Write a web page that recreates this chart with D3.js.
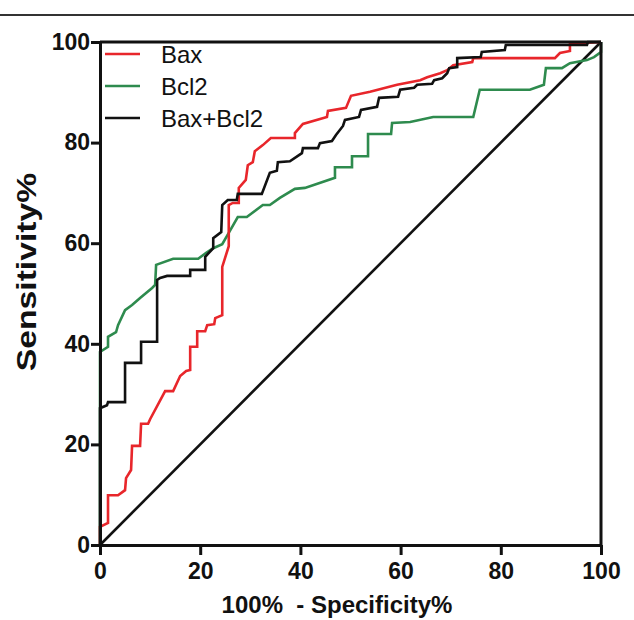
<!DOCTYPE html>
<html>
<head>
<meta charset="utf-8">
<script src="https://cdn.jsdelivr.net/npm/d3@7/dist/d3.min.js"></script>
<style>
  html, body { margin: 0; padding: 0; background: #ffffff; }
  svg { display: block; }
</style>
</head>
<body>
<svg id="chart" width="634" height="620"></svg>
<script>
// ---------------- data ----------------
const seriesNames = ["Bax", "Bcl2", "Bax+Bcl2"];
const seriesColors = ["#e8262b", "#2e8b4e", "#111111"];

const baxX = [0, 0, 1.6, 1.6, 3.6, 5.0, 5.2, 6.2, 6.4, 8.0, 8.2, 9.6, 10.0, 13.0, 14.6, 16.0, 17.2, 18.0, 18.0, 19.4, 19.4, 21.0, 21.4, 22.8, 23.0, 24.4, 24.4, 25.7, 25.7, 26.5, 27.7, 27.7, 29.1, 29.5, 30.5, 30.9, 32.5, 34.1, 38.9, 38.9, 40.5, 45.3, 45.5, 49.1, 50.1, 53.9, 59.3, 63.9, 65.3, 67.9, 69.3, 70.5, 74.3, 74.5, 90.8, 91.8, 93.8, 93.8, 96.4, 100];
const baxY = [0, 3.6, 4.4, 9.9, 9.9, 10.9, 13.3, 14.9, 19.7, 19.7, 24.1, 24.1, 25.0, 30.6, 30.6, 33.6, 34.6, 34.8, 39.4, 39.4, 42.5, 42.5, 43.7, 43.9, 45.1, 45.7, 55.3, 59.4, 67.6, 68.0, 68.0, 71.0, 72.6, 75.5, 76.1, 78.3, 79.5, 80.9, 80.9, 81.9, 83.7, 85.1, 86.3, 86.9, 89.3, 90.1, 91.5, 92.4, 93.0, 93.8, 94.4, 95.4, 96.0, 96.8, 96.8, 97.8, 98.2, 99.8, 99.8, 100];

const bcl2X = [0, 0, 1.6, 1.6, 3.2, 3.6, 5.0, 6.4, 8.0, 10.4, 11.0, 11.2, 14.6, 19.6, 21.2, 22.6, 24.4, 25.9, 27.5, 29.3, 32.5, 33.9, 35.9, 38.9, 40.9, 46.9, 46.9, 50.3, 50.3, 53.5, 53.5, 58.1, 58.3, 61.9, 66.5, 74.5, 75.8, 85.8, 88.6, 89.0, 92.2, 93.8, 97.2, 98.6, 100, 100];
const bcl2Y = [0, 38.4, 39.4, 41.4, 42.3, 43.7, 46.7, 47.7, 49.1, 51.1, 51.7, 55.7, 56.9, 56.9, 58.1, 59.0, 59.8, 62.4, 65.2, 65.2, 67.6, 67.6, 69.0, 70.8, 71.0, 73.0, 75.1, 75.1, 77.3, 77.3, 81.7, 81.7, 83.9, 84.1, 85.1, 85.1, 90.5, 90.5, 91.5, 94.8, 94.8, 95.8, 96.4, 97.0, 98.0, 100];

const comboX = [0, 0, 1.4, 1.6, 5.0, 5.0, 8.2, 8.2, 11.4, 11.4, 12.0, 13.4, 18.0, 18.0, 21.0, 21.0, 22.6, 22.6, 24.2, 24.4, 25.5, 27.3, 27.5, 32.3, 33.9, 35.3, 35.5, 37.9, 40.3, 40.5, 43.5, 43.9, 46.3, 47.1, 48.5, 48.9, 51.7, 52.1, 55.3, 55.7, 59.5, 59.9, 62.7, 63.3, 66.3, 66.7, 68.3, 69.3, 69.7, 71.3, 71.3, 76.0, 76.2, 80.8, 81.0, 97.2, 97.4, 100];
const comboY = [0, 27.2, 27.8, 28.4, 28.4, 36.2, 36.2, 40.4, 40.4, 52.7, 53.1, 53.5, 53.5, 54.7, 54.7, 57.3, 59.0, 61.0, 62.2, 67.6, 68.6, 68.6, 69.8, 69.8, 74.0, 74.4, 76.1, 76.3, 77.9, 78.9, 78.9, 79.9, 80.3, 81.5, 83.3, 84.5, 85.1, 86.5, 87.1, 88.9, 89.1, 90.5, 90.9, 91.5, 91.7, 92.4, 92.8, 93.8, 94.8, 95.0, 96.8, 97.0, 98.0, 98.4, 99.4, 99.4, 100, 100];

const refX = [0, 100];
const refY = [0, 100];

const xTicks = [0, 20, 40, 60, 80, 100];
const yTicks = [0, 20, 40, 60, 80, 100];
const xTitle = "100%  - Specificity%";
const yTitle = "Sensitivity%";

// ---------------- layout ----------------
const svg = d3.select("#chart");
const plotL = 100, plotR = 601, plotT = 42, plotB = 545;
const x = d3.scaleLinear().domain([0, 100]).range([plotL, plotR]);
const y = d3.scaleLinear().domain([0, 100]).range([plotB, plotT]);

// top rule of the page
svg.append("line")
  .attr("x1", 0).attr("x2", 634).attr("y1", 15).attr("y2", 15)
  .attr("stroke", "#333").attr("stroke-width", 2);

const zip = (xs, ys) => xs.map((v, i) => [v, ys[i]]);
const line = d3.line().x(d => x(d[0])).y(d => y(d[1]));

// diagonal reference
svg.append("path").datum(zip(refX, refY))
  .attr("d", line).attr("fill", "none")
  .attr("stroke", "#111").attr("stroke-width", 2.6);

const series = [zip(baxX, baxY), zip(bcl2X, bcl2Y), zip(comboX, comboY)];
[1, 0, 2].forEach(i => {
  svg.append("path").datum(series[i])
    .attr("d", line).attr("fill", "none")
    .attr("stroke", seriesColors[i]).attr("stroke-width", 2.6)
    .attr("stroke-linejoin", "miter");
});

// frame (top and right)
svg.append("line").attr("x1", plotL).attr("x2", plotR).attr("y1", plotT).attr("y2", plotT)
  .attr("stroke", "#111").attr("stroke-width", 3);
svg.append("line").attr("x1", plotR).attr("x2", plotR).attr("y1", plotT).attr("y2", plotB)
  .attr("stroke", "#111").attr("stroke-width", 3);

// axes
const font = "'Liberation Sans', Arial, sans-serif";
const xAxis = svg.append("g").attr("transform", `translate(0,${plotB})`)
  .call(d3.axisBottom(x).tickValues(xTicks).tickSize(10).tickPadding(8).tickSizeOuter(0));
const yAxis = svg.append("g").attr("transform", `translate(${plotL},0)`)
  .call(d3.axisLeft(y).tickValues(yTicks).tickSize(9).tickPadding(1).tickSizeOuter(0));
[xAxis, yAxis].forEach(g => {
  g.select(".domain").attr("stroke", "#111").attr("stroke-width", 3);
  g.selectAll(".tick line").attr("stroke", "#111").attr("stroke-width", 3);
  g.selectAll(".tick text").attr("fill", "#111")
    .style("font-family", font).style("font-weight", "bold").style("font-size", "23px");
});

// titles
svg.append("text").attr("x", 337).attr("y", 613)
  .attr("text-anchor", "middle")
  .style("font-family", font).style("font-weight", "bold").style("font-size", "24px")
  .style("white-space", "pre")
  .attr("fill", "#111").text(xTitle);
svg.append("text").attr("transform", "translate(36,272) rotate(-90) scale(1.25,1)")
  .attr("text-anchor", "middle")
  .style("font-family", font).style("font-weight", "bold").style("font-size", "27px")
  .attr("fill", "#111").text(yTitle);

// legend
const legend = svg.append("g");
seriesNames.forEach((name, i) => {
  const ly = 54 + i * 32;
  legend.append("line").attr("x1", 105).attr("x2", 140).attr("y1", ly).attr("y2", ly)
    .attr("stroke", seriesColors[i]).attr("stroke-width", 2.6);
  legend.append("text").attr("x", 161).attr("y", ly + 8.5)
    .style("font-family", font).style("font-size", "24px").attr("fill", "#111")
    .text(name);
});
</script>
</body>
</html>
